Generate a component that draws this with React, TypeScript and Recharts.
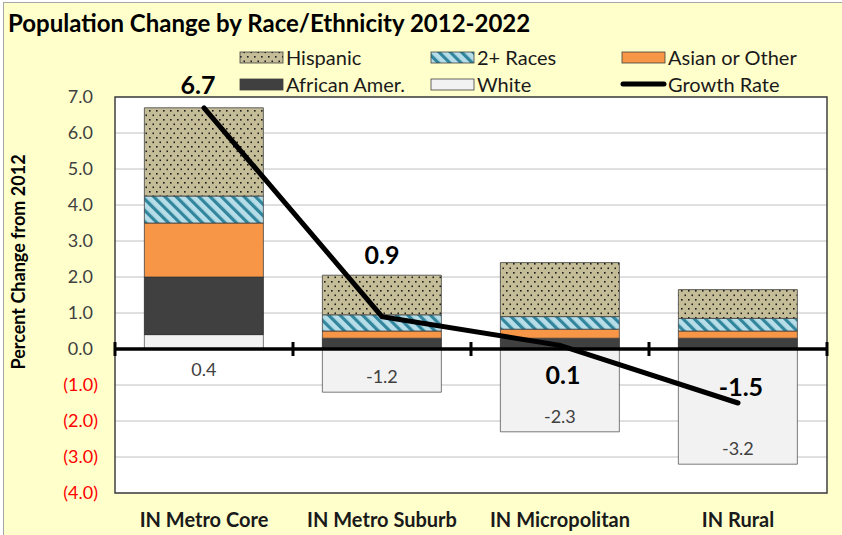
import {
  Bar,
  CartesianGrid,
  ComposedChart,
  LabelList,
  Line,
  ReferenceArea,
  ReferenceLine,
  XAxis,
  YAxis,
} from 'recharts'

const categories = ['IN Metro Core', 'IN Metro Suburb', 'IN Micropolitan', 'IN Rural']
const white = [0.4, -1.2, -2.3, -3.2]
const africanAmer = [1.6, 0.3, 0.3, 0.3]
const asianOther = [1.5, 0.2, 0.25, 0.2]
const twoPlusRaces = [0.75, 0.45, 0.35, 0.35]
const hispanic = [2.45, 1.1, 1.5, 0.8]
const growthRate = [6.7, 0.9, 0.1, -1.5]
const yTicks = [-4, -3, -2, -1, 0, 1, 2, 3, 4, 5, 6, 7]

const data = categories.map((name, i) => ({
  name,
  white: white[i],
  africanAmer: africanAmer[i],
  asianOther: asianOther[i],
  twoPlusRaces: twoPlusRaces[i],
  hispanic: hispanic[i],
  growthRate: growthRate[i],
}))

const FONT = 'Lato, "Open Sans", sans-serif'
const W = 842
const H = 535

// manual label placement, as in the original chart
const growthLabelOffset = [
  { dx: -6, dy: -24 },
  { dx: 0, dy: -63 },
  { dx: 3, dy: 29 },
  { dx: 3, dy: -17 },
]

const YTick = ({ x, y, payload }: any) => {
  const v = payload.value as number
  const neg = v < 0
  const text = neg ? `(${Math.abs(v).toFixed(1)})` : v.toFixed(1)
  return (
    <text
      x={x}
      y={y}
      dx={neg ? 0 : -5}
      dy={6}
      textAnchor="end"
      fill={neg ? '#FF0000' : '#404040'}
      fontSize={18}
      fontFamily={FONT}
    >
      {text}
    </text>
  )
}

const XTick = ({ x, y, payload }: any) => (
  <text
    x={x}
    y={y}
    dy={22}
    textAnchor="middle"
    fill="#1a1a1a"
    fontSize={20}
    fontWeight="bold"
    fontFamily={FONT}
  >
    {payload.value}
  </text>
)

const YTitle = ({ viewBox }: any) => {
  const cx = 18
  const cy = viewBox.y + viewBox.height / 2 - 33
  return (
    <text
      x={cx}
      y={cy}
      transform={`rotate(-90 ${cx} ${cy})`}
      textAnchor="middle"
      dominantBaseline="central"
      fontFamily={FONT}
      fontWeight="bold"
      fontSize={18}
      fill="#000"
    >
      Percent Change from 2012
    </text>
  )
}

const WhiteLabel = (props: any) => {
  const { x, y, width, height, value } = props
  const bottom = Math.max(y, y + height)
  const ty = value >= 0 ? bottom + 20 : bottom - 16
  return (
    <text
      x={x + width / 2}
      y={ty}
      textAnchor="middle"
      dominantBaseline="central"
      fill="#404040"
      fontSize={18}
      fontFamily={FONT}
    >
      {Number(value).toFixed(1)}
    </text>
  )
}

const GrowthLabel = (props: any) => {
  const { x, y, value, index } = props
  const off = growthLabelOffset[index] || { dx: 0, dy: -20 }
  return (
    <text
      x={x + off.dx}
      y={y + off.dy}
      textAnchor="middle"
      dominantBaseline="central"
      fill="#000"
      fontSize={25}
      fontWeight="bold"
      fontFamily={FONT}
    >
      {Number(value).toFixed(1)}
    </text>
  )
}

const ZeroAxis = (props: any) => {
  const { x1, x2, y1 } = props
  const n = categories.length
  const ticks = Array.from({ length: n + 1 }, (_, i) => x1 + ((x2 - x1) * i) / n)
  return (
    <g>
      <line x1={x1} x2={x2} y1={y1} y2={y1} stroke="#000" strokeWidth={3.5} />
      {ticks.map((tx, i) => (
        <line key={i} x1={tx} x2={tx} y1={y1 - 7} y2={y1 + 7} stroke="#000" strokeWidth={3} />
      ))}
    </g>
  )
}

const legendItems = [
  { label: 'Hispanic', fill: 'url(#hispDots)', col: 0, row: 0 },
  { label: '2+ Races', fill: 'url(#twoStripes)', col: 1, row: 0 },
  { label: 'Asian or Other', fill: '#F79646', col: 2, row: 0 },
  { label: 'African Amer.', fill: '#404040', col: 0, row: 1 },
  { label: 'White', fill: '#F2F2F2', col: 1, row: 1 },
  { label: 'Growth Rate', fill: 'line', col: 2, row: 1 },
]
const legendCols = [240, 431, 622]
const legendRows = [57, 84]

function Patterns() {
  return (
    <svg width={0} height={0} style={{ position: 'absolute' }}>
      <defs>
        <pattern id="hispDots" width={7} height={9} patternUnits="userSpaceOnUse">
          <rect width={7} height={9} fill="#C4BD97" />
          <rect x={2} y={2} width={1.6} height={1.6} fill="#1a1a1a" />
          <rect x={5.5} y={6.5} width={1.6} height={1.6} fill="#1a1a1a" />
        </pattern>
        <pattern
          id="twoStripes"
          width={8}
          height={8}
          patternUnits="userSpaceOnUse"
          patternTransform="rotate(-45)"
        >
          <rect width={8} height={8} fill="#B7DEE8" />
          <rect width={3.2} height={8} fill="#31859C" />
        </pattern>
      </defs>
    </svg>
  )
}

export default function App() {
  return (
    <div
      style={{
        position: 'absolute',
        left: 0,
        top: 0,
        width: W,
        height: H,
        background: '#fff',
        overflow: 'hidden',
      }}
    >
      <Patterns />
      <div
        style={{
          position: 'absolute',
          left: 3,
          top: 2,
          width: W - 3,
          height: H - 2,
          background: '#FFFFCC',
          borderLeft: '1.5px solid #A6A6A6',
          borderTop: '1.5px solid #A6A6A6',
        }}
      />
      <div
        style={{
          position: 'absolute',
          left: 8,
          top: 8,
          fontFamily: FONT,
          fontWeight: 'bold',
          fontSize: 24,
          color: '#000',
          whiteSpace: 'nowrap',
        }}
      >
        Population Change by Race/Ethnicity 2012-2022
      </div>
      <svg width={W} height={110} style={{ position: 'absolute', left: 0, top: 0 }}>
        {legendItems.map((it) => {
          const x = legendCols[it.col]
          const y = legendRows[it.row]
          return (
            <g key={it.label}>
              {it.fill === 'line' ? (
                <line x1={x + 1} x2={x + 42} y1={y} y2={y} stroke="#000" strokeWidth={5} strokeLinecap="round" />
              ) : (
                <rect x={x} y={y - 5} width={43} height={11} fill={it.fill} stroke="#404040" strokeWidth={0.8} />
              )}
              <text
                x={x + 46}
                y={y}
                dominantBaseline="central"
                fontSize={20}
                fontFamily={FONT}
                fill="#1a1a1a"
              >
                {it.label}
              </text>
            </g>
          )
        })}
      </svg>
      <div style={{ position: 'absolute', left: 0, top: 0 }}>
        <ComposedChart
          width={W}
          height={H}
          data={data}
          stackOffset="sign"
          barCategoryGap="16.5%"
          margin={{ top: 97, right: 15, bottom: 0, left: 0 }}
        >
          <CartesianGrid vertical={false} stroke="#C0C0C0" fill="#FFFFFF" />
          <XAxis
            dataKey="name"
            axisLine={false}
            tickLine={false}
            tick={<XTick />}
            tickMargin={6}
            height={42}
          />
          <YAxis
            width={115}
            domain={[-4, 7]}
            ticks={yTicks}
            interval={0}
            axisLine={false}
            tickLine={false}
            tickSize={0}
            tickMargin={17}
            tick={<YTick />}
            label={<YTitle />}
          />
          <ReferenceArea y1={-4} y2={7} fill="none" stroke="#404040" strokeWidth={1.5} ifOverflow="visible" />
          <Bar dataKey="white" stackId="a" fill="#F2F2F2" stroke="#595959" strokeWidth={0.8} isAnimationActive={false}>
            <LabelList dataKey="white" content={<WhiteLabel />} />
          </Bar>
          <Bar dataKey="africanAmer" stackId="a" fill="#404040" stroke="#262626" strokeWidth={0.8} isAnimationActive={false} />
          <Bar dataKey="asianOther" stackId="a" fill="#F79646" stroke="#404040" strokeWidth={0.8} isAnimationActive={false} />
          <Bar dataKey="twoPlusRaces" stackId="a" fill="url(#twoStripes)" stroke="#404040" strokeWidth={0.8} isAnimationActive={false} />
          <Bar dataKey="hispanic" stackId="a" fill="url(#hispDots)" stroke="#404040" strokeWidth={0.8} isAnimationActive={false} />
          <ReferenceLine y={0} shape={<ZeroAxis />} ifOverflow="visible" />
          <Line
            dataKey="growthRate"
            type="linear"
            stroke="#000"
            strokeWidth={5}
            strokeLinecap="round"
            dot={false}
            activeDot={false}
            isAnimationActive={false}
          >
            <LabelList dataKey="growthRate" content={<GrowthLabel />} />
          </Line>
        </ComposedChart>
      </div>
    </div>
  )
}
